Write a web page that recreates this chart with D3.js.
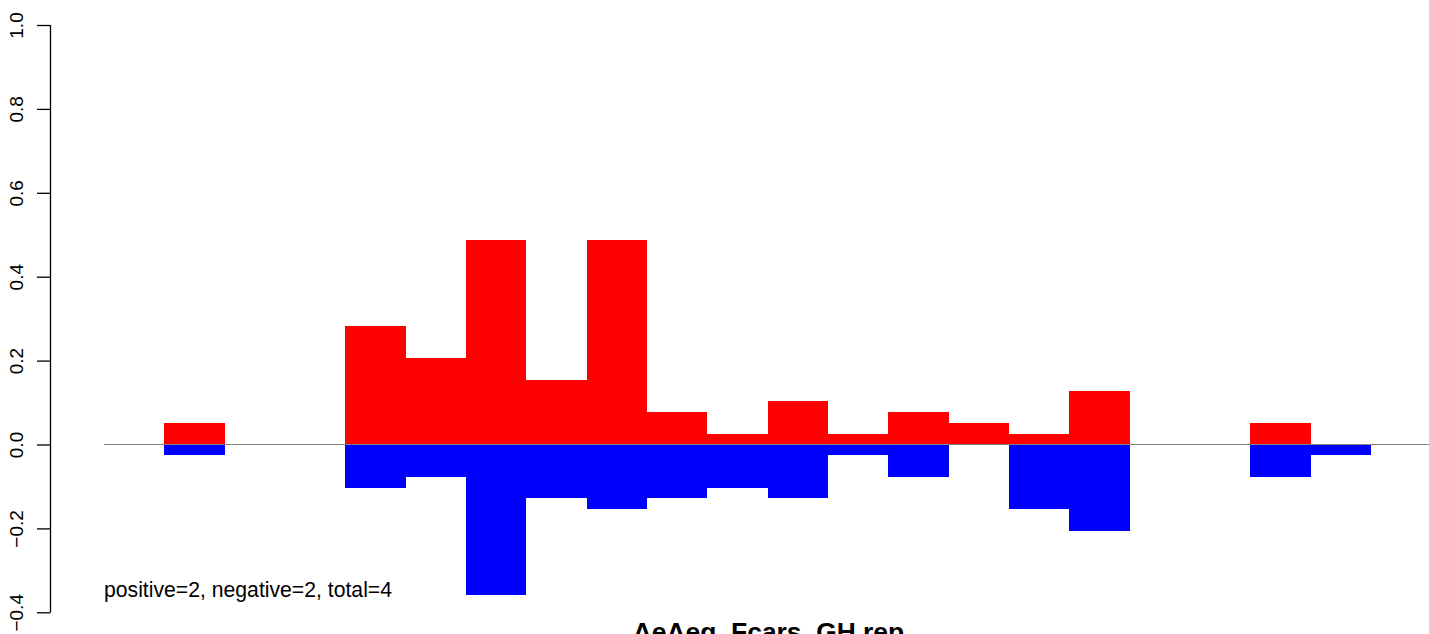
<!DOCTYPE html>
<html>
<head>
<meta charset="utf-8">
<script src="https://cdn.jsdelivr.net/npm/d3@7"></script>
<style>
  html, body { margin: 0; padding: 0; background: #fff; overflow: hidden; }
  svg { display: block; font-family: "Liberation Sans", Arial, Helvetica, sans-serif; }
</style>
</head>
<body>
<svg id="chart" width="1429" height="634"></svg>
<script>
// ---- data ----
const bins = d3.range(22);
const positiveValues = [0, 0.0513, 0, 0, 0.2821, 0.2051, 0.4872, 0.1538, 0.4872, 0.0769, 0.0256, 0.1026, 0.0256, 0.0769, 0.0513, 0.0256, 0.1282, 0, 0, 0.0513, 0, 0];
const negativeValues = [0, -0.0256, 0, 0, -0.1026, -0.0769, -0.359, -0.1282, -0.1538, -0.1282, -0.1026, -0.1282, -0.0256, -0.0769, 0, -0.1538, -0.2051, 0, 0, -0.0769, -0.0256, 0];
const yTicks = [-0.4, -0.2, 0.0, 0.2, 0.4, 0.6, 0.8, 1.0];
const annotation = "positive=2, negative=2, total=4";
const titleText = "AeAeg_Fcars_GH rep";

// ---- layout ----
const W = 1429, H = 634;
const svg = d3.select("#chart");
const x = d3.scaleLinear().domain([0, 22]).range([104, 104 + 22 * 60.33]);
const y = d3.scaleLinear().domain([-0.4, 1.0]).range([612.3, 25]);
const axisX = 50.5;

// bars
svg.append("g").selectAll("rect.pos")
  .data(bins.filter(i => positiveValues[i] > 0))
  .join("rect")
  .attr("x", i => x(i))
  .attr("width", i => x(i + 1) - x(i))
  .attr("y", i => y(positiveValues[i]))
  .attr("height", i => y(0) - y(positiveValues[i]))
  .attr("fill", "#ff0000")
  .attr("shape-rendering", "crispEdges");

svg.append("g").selectAll("rect.neg")
  .data(bins.filter(i => negativeValues[i] < 0))
  .join("rect")
  .attr("x", i => x(i))
  .attr("width", i => x(i + 1) - x(i))
  .attr("y", y(0))
  .attr("height", i => y(negativeValues[i]) - y(0))
  .attr("fill", "#0000ff")
  .attr("shape-rendering", "crispEdges");

// zero line
svg.append("line")
  .attr("x1", x(0)).attr("x2", W)
  .attr("y1", y(0)).attr("y2", y(0))
  .attr("stroke", "#808080").attr("stroke-width", 1);

// y axis
const yAxis = d3.axisLeft(y).tickValues(yTicks).tickSize(13.5).tickPadding(5)
  .tickFormat(d => d3.format(".1f")(d).replace("-", "\u2212"));
const gA = svg.append("g").attr("transform", `translate(${axisX},0)`).call(yAxis);
gA.select(".domain").attr("stroke", "#000").attr("stroke-width", 1.3)
  .attr("d", `M0,${y(-0.4)}V${y(1.0)}`);
gA.selectAll(".tick line").attr("stroke", "#000").attr("stroke-width", 1.3);
gA.selectAll(".tick text")
  .attr("font-size", 19)
  .attr("fill", "#000")
  .attr("text-anchor", "middle")
  .attr("dy", null)
  .attr("x", null)
  .attr("y", 0)
  .attr("transform", "translate(-27.5,0) rotate(-90)");

// annotation
svg.append("text")
  .attr("x", x(0)).attr("y", 597)
  .attr("font-size", 21.2)
  .attr("fill", "#000")
  .text(annotation);

// title at bottom
svg.append("text")
  .attr("x", 768.5).attr("y", 641)
  .attr("text-anchor", "middle")
  .attr("font-size", 26.4)
  .attr("font-weight", "bold")
  .attr("fill", "#000")
  .text(titleText);
</script>
</body>
</html>
